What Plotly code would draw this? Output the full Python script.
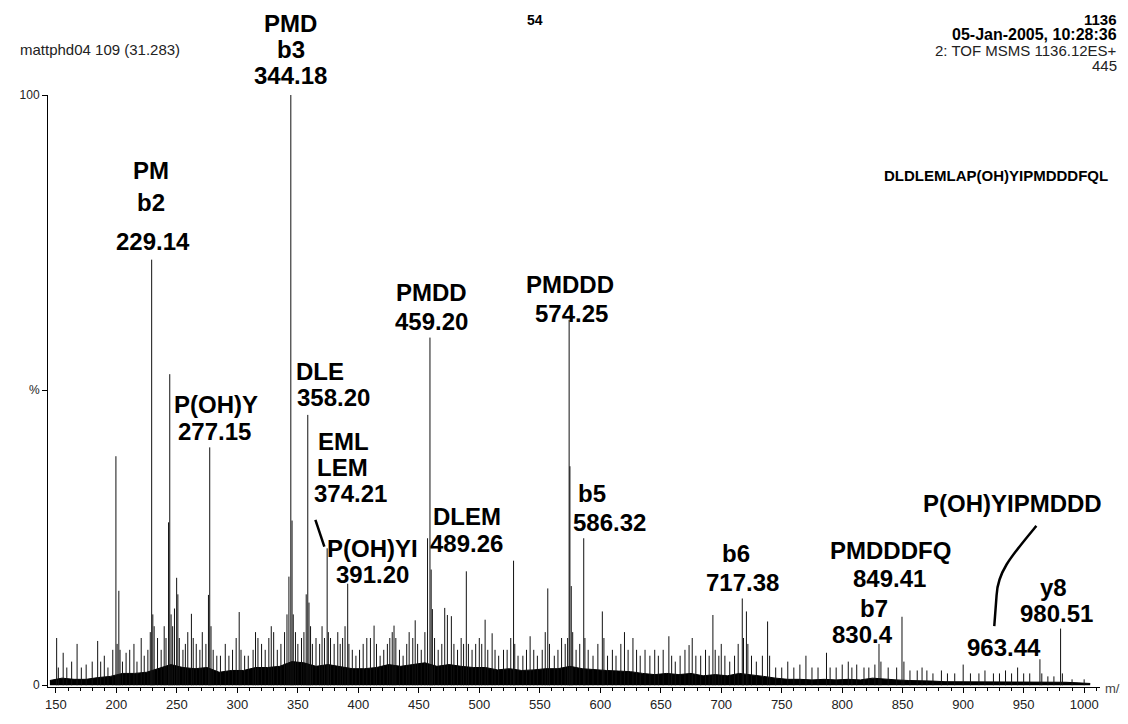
import plotly.graph_objects as go

# ---------------- data ----------------
peak_mz = [150.6, 152, 156, 159, 163, 167.5, 171, 175, 180, 184.5, 187, 190, 193, 197, 199.6, 200.6, 202, 203,
           205, 208, 211, 214.5, 217, 220.5, 223, 226, 228,
           229.14, 230.1, 231.2, 234, 237, 239.5, 241, 243.1, 244.1, 245.2, 246.5, 248, 249.8, 250.8, 252, 255,
           257, 259, 262, 263.5, 266, 269, 271, 274, 276.1, 277.15, 278.2, 280, 283, 286, 290, 293, 296, 299,
           301.5, 303, 306, 309, 313, 315, 317, 320, 323, 326, 328, 330, 333, 336, 339, 341, 342.6, 344.18,
           345.2, 346.2, 348, 350, 353, 355, 356.9, 358.2, 359.2, 360.5, 362, 365, 368, 370, 372, 374.21, 375.2,
           377, 380, 383, 385, 387, 389, 391.2, 392.2, 395, 398, 401, 404, 407, 410, 413, 415, 418, 421, 424,
           426, 428, 429.5, 431, 434, 437, 440, 442, 445, 447, 449, 452, 455, 457.2, 459.2, 460.2, 461.2, 463,
           466, 469, 471.4, 473.6, 476.9, 479, 482, 485, 487, 489.26, 491, 494, 497, 500, 502, 504.8, 507,
           510.6, 513, 516, 520, 523, 526, 528.3, 529.3, 532, 536, 539, 542, 545, 548, 552, 554.5, 556.6, 558,
           562, 565, 568, 571, 573, 574.25, 574.9, 576, 577.2, 580, 583, 586.32, 587.3, 590, 594, 598, 601.7,
           603, 606, 610, 613, 617, 620, 623, 627, 630, 633, 637, 641, 645, 648, 652, 656.7, 659, 662, 666,
           670, 673.4, 676, 679, 683, 687, 690, 693.1, 695, 698, 700, 703, 707, 711, 714, 717.38, 718.4, 720.8,
           722, 725, 729, 734, 738.3, 740, 745, 750, 755, 760, 765, 770, 775, 780, 787, 790, 795, 800, 805,
           808, 812, 818, 822, 827, 830.4, 832, 838, 845, 849.41, 851, 856, 862, 866, 870, 875, 882, 887, 893,
           900, 906, 913, 918, 925, 930, 935, 940, 945, 950, 955, 963.44, 965, 970, 975, 980.51, 982, 990, 1000]
peak_int = [8, 3, 5.5, 3, 4, 7, 3, 3.5, 4, 7.5, 4, 5, 3, 6, 38.8, 7, 16, 6,
            4, 5.5, 6, 7, 4, 8, 5, 6, 9,
            72.1, 12, 10, 8, 6, 10, 8, 27.6, 52.7, 12, 10, 13, 18.2, 15.4, 8, 6,
            7, 9, 12.1, 8, 7, 6, 9, 7, 15.3, 40.3, 10, 6, 5, 5, 7, 5, 6, 8,
            12.4, 6, 5, 5, 6, 9, 8, 7, 6, 8, 10, 9, 6, 7, 9, 12, 18.4, 100,
            27.9, 12, 9, 7, 8, 9, 15.4, 45.8, 14, 10, 7, 8, 7, 10, 8, 23.2, 9,
            8, 7, 9, 7, 8, 10, 17.2, 7, 6, 5, 6, 7, 8, 8, 10.1, 7, 5, 6, 7,
            8, 9, 10.1, 8, 6, 5, 7, 9, 8, 11, 7, 6, 9, 24.9, 58.9, 19.6, 12.9, 8,
            6, 7, 13.1, 11.9, 11.7, 7, 6, 8, 7, 19.3, 7, 6, 7, 8, 7, 11.1, 6,
            8.8, 6, 5, 6, 6, 8, 21.1, 7, 5, 5, 6, 8.3, 6, 5, 6, 9, 16.4, 7,
            5, 6, 8, 7, 8, 61.9, 37.1, 16.8, 9, 6, 7, 24.9, 8, 6, 5, 7, 12.5,
            8, 5, 6, 5, 7, 9, 6, 8, 6, 5, 6, 5, 6, 5, 6, 8.3, 5, 4, 5,
            6, 6.8, 8, 5, 5, 6, 5, 11.9, 6, 5, 7, 5, 4, 5, 7, 14.7, 8, 12.5,
            7, 5, 4, 5, 10.8, 5, 3, 3, 4, 3, 3.5, 5, 3, 3, 5.5, 3, 3, 3.5, 4,
            3, 3.5, 3, 3, 3.5, 7, 4, 3, 3, 11.6, 4, 2.5, 2.5, 3, 2.5, 2, 2.5, 2, 2,
            3.5, 2, 2, 2.5, 2, 2, 2.5, 2, 3, 2, 2, 4.4, 2, 1.5, 1.5, 9.6, 2, 1, 1]

# dense baseline noise band
noise_mz = [145, 155, 165, 175, 185, 195, 205, 215, 225, 235, 245, 255, 265, 275, 285, 295, 305, 315, 325,
            335, 345, 355, 365, 375, 385, 395, 405, 415, 425, 435, 445, 455, 465, 475, 485, 495, 505, 515,
            525, 535, 545, 555, 565, 575, 585, 595, 605, 615, 625, 635, 645, 655, 665, 675, 685, 695, 705,
            715, 725, 735, 745, 755, 765, 775, 785, 795, 805, 815, 825, 835, 845, 855, 865, 875, 885, 895,
            905, 915, 925, 935, 945, 955, 965, 975, 985, 995, 1005]
noise_int = [0.8, 1.2, 1.0, 1.0, 1.3, 1.5, 2.0, 2.0, 2.2, 2.8, 3.5, 3.0, 2.8, 3.0, 2.2, 2.5, 2.5, 3.0, 3.0,
             3.2, 4.0, 3.8, 3.2, 3.5, 3.2, 2.8, 2.8, 3.0, 3.5, 3.2, 3.5, 3.8, 3.2, 3.5, 3.2, 3.0, 3.0, 2.6,
             2.8, 2.5, 2.6, 2.8, 2.8, 3.2, 2.8, 2.6, 2.5, 2.4, 2.3, 2.0, 1.8, 2.0, 1.8, 2.0, 1.6, 1.8, 1.6,
             2.0, 1.8, 1.5, 1.2, 1.0, 1.0, 0.9, 1.0, 0.9, 1.0, 0.9, 1.2, 1.0, 0.9, 0.8, 0.8, 0.7, 0.6, 0.6,
             0.6, 0.6, 0.5, 0.6, 0.6, 0.5, 0.6, 0.5, 0.5, 0.4, 0.3]

x_ticks = [150, 200, 250, 300, 350, 400, 450, 500, 550, 600, 650, 700, 750, 800, 850, 900, 950, 1000]
y_tickvals = [0, 50, 100]
y_ticktext = ["0", "%", "100"]

# peak label lines: text, centre m/z, vertical position (page pixels)
label_text = ["PMD", "b3", "344.18",
              "PM", "b2", "229.14",
              "P(OH)Y", "277.15",
              "DLE", "358.20",
              "EML", "LEM", "374.21",
              "P(OH)YI", "391.20",
              "PMDD", "459.20",
              "DLEM", "489.26",
              "PMDDD", "574.25",
              "b5", "586.32",
              "b6", "717.38",
              "PMDDDFQ", "849.41",
              "b7", "830.4",
              "P(OH)YIPMDDD",
              "y8", "980.51",
              "963.44"]
label_mz = [344.1, 344.1, 344.1,
            228.6, 228.6, 230.5,
            282.0, 281.0,
            368.6, 379.3,
            388.0, 386.5, 393.2,
            412.0, 412.0,
            460.5, 460.5,
            490.0, 489.5,
            575.0, 575.8,
            593.0, 607.5,
            712.6, 717.5,
            840.0, 839.0,
            826.4, 816.6,
            941.0,
            974.6, 977.0,
            934.0]
label_ypx = [22, 48, 75,
             172, 205, 245,
             411, 439,
             378, 404,
             449, 476, 502,
             558, 585,
             297, 326,
             526, 553,
             289, 318,
             502, 532,
             564, 593,
             560, 589,
             620, 646,
             512,
             598, 625,
             660]

# ---------------- figure ----------------
OFF = 8                      # page body margin around the plot div
W, H = 1128 - OFF, 724 - OFF
ML, MR, MT, MB = 38 - OFF, 28, 95 - OFF, 24
PH = H - MT - MB
PW = W - ML - MR


def ypaper(ypx):
    return (H - MB - (ypx - OFF)) / PH


def xpaper(xpx):
    return (xpx - OFF - ML) / PW


fig = go.Figure()

fig.add_trace(go.Scatter(x=noise_mz, y=noise_int, mode="lines", fill="tozeroy",
                         line=dict(color="black", width=1), fillcolor="black",
                         hoverinfo="skip", showlegend=False))

xs, ys = [], []
for m, h in zip(peak_mz, peak_int):
    xs += [m, m, None]
    ys += [0, h, None]
fig.add_trace(go.Scatter(x=xs, y=ys, mode="lines", line=dict(color="#111111", width=1),
                         hoverinfo="skip", showlegend=False))

FONT = "Liberation Sans, Arial, sans-serif"
annotations = []
for t, m, yp in zip(label_text, label_mz, label_ypx):
    annotations.append(dict(text="<b>%s</b>" % t, x=m, xref="x", y=ypaper(yp), yref="paper",
                            showarrow=False, xanchor="center", yanchor="middle",
                            font=dict(family=FONT, size=24, color="black")))

annotations.append(dict(text="<b>DLDLEMLAP(OH)YIPMDDDFQL</b>", x=xpaper(995), xref="paper",
                        y=ypaper(177), yref="paper", showarrow=False, xanchor="center",
                        yanchor="middle", font=dict(family=FONT, size=15, color="black")))

# header texts
annotations += [
    dict(text="mattphd04 109 (31.283)", x=xpaper(8), y=ypaper(48), xanchor="left",
         font=dict(family=FONT, size=15, color="#222")),
    dict(text="<b>54</b>", x=xpaper(530), y=ypaper(18), xanchor="center",
         font=dict(family=FONT, size=14, color="black")),
    dict(text="<b>1136</b>", x=xpaper(1119), y=ypaper(18), xanchor="right",
         font=dict(family=FONT, size=15, color="black")),
    dict(text="<b>05-Jan-2005, 10:28:36</b>", x=xpaper(1119), y=ypaper(33), xanchor="right",
         font=dict(family=FONT, size=16, color="black")),
    dict(text="2: TOF MSMS 1136.12ES+", x=xpaper(1119), y=ypaper(50), xanchor="right",
         font=dict(family=FONT, size=15, color="#222")),
    dict(text="445", x=xpaper(1119), y=ypaper(65), xanchor="right",
         font=dict(family=FONT, size=15, color="#222")),
    dict(text="m/z", x=xpaper(1103), y=ypaper(702), xanchor="left",
         font=dict(family=FONT, size=13, color="#444")),
]
for a in annotations[-7:]:
    a.update(xref="paper", yref="paper", showarrow=False, yanchor="middle")

# connector strokes (data units)
shapes = [
    dict(type="line", xref="x", yref="y", x0=364.5, y0=28.0, x1=371.9, y1=23.5,
         line=dict(color="black", width=2.5)),
    dict(type="path", xref="x", yref="y",
         path="M 960.5,27.0 C 939.5,21.8 928.4,19.2 927.6,15.2 L 925.7,10.0",
         line=dict(color="black", width=2.5)),
]

fig.update_layout(
    width=W, height=H,
    margin=dict(l=ML, r=MR, t=MT, b=MB),
    paper_bgcolor="white", plot_bgcolor="white",
    showlegend=False,
    annotations=annotations,
    shapes=shapes,
    xaxis=dict(range=[143.45, 1013.1], tickvals=x_ticks, ticks="outside", ticklen=5,
               tickcolor="black", showline=True, linecolor="black", linewidth=1,
               showgrid=False, zeroline=False,
               tickfont=dict(family=FONT, size=13, color="#222"),
               minor=dict(dtick=10, tick0=150, ticks="outside", ticklen=3, tickcolor="black",
                          showgrid=False)),
    yaxis=dict(range=[-0.3, 100], tickvals=y_tickvals, ticktext=y_ticktext, ticks="outside",
               ticklen=5, tickcolor="black", showline=True, linecolor="black", linewidth=1,
               showgrid=False, zeroline=False,
               tickfont=dict(family=FONT, size=12, color="#222")),
)

fig.write_html("out.html")
